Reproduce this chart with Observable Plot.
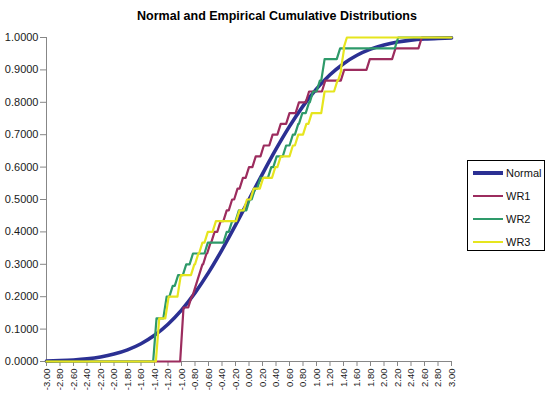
<!DOCTYPE html>
<html>
<head>
<meta charset="utf-8">
<script src="https://cdn.jsdelivr.net/npm/d3@7"></script>
<script src="https://cdn.jsdelivr.net/npm/@observablehq/plot@0.6"></script>
<style>
  body { margin: 0; background: #fff; }
  #wrap { position: relative; width: 550px; height: 398px; font-family: "Liberation Sans", Arial, sans-serif; }
  #legend { position: absolute; left: 467px; top: 160px; width: 78px; height: 91px; border: 1px solid #000; background: #fff; box-sizing: border-box; }
  .item { position: absolute; left: 5px; height: 14px; display: flex; align-items: center; font-size: 11px; color: #111; }
  .sw { width: 30px; margin-right: 3px; }
</style>
</head>
<body>
<div id="wrap"></div>
<script>
// ---- data ----
const title = "Normal and Empirical Cumulative Distributions";
const xTicks = [-3.00,-2.80,-2.60,-2.40,-2.20,-2.00,-1.80,-1.60,-1.40,-1.20,-1.00,-0.80,-0.60,-0.40,-0.20,0.00,0.20,0.40,0.60,0.80,1.00,1.20,1.40,1.60,1.80,2.00,2.20,2.40,2.60,2.80,3.00];
const xTickLabels = ["-3.00","-2.80","-2.60","-2.40","-2.20","-2.00","-1.80","-1.60","-1.40","-1.20","-1.00","-0.80","-0.60","-0.40","-0.20","0.00","0.20","0.40","0.60","0.80","1.00","1.20","1.40","1.60","1.80","2.00","2.20","2.40","2.60","2.80","3.00"];
const yTicks = [0,0.1,0.2,0.3,0.4,0.5,0.6,0.7,0.8,0.9,1.0];
const yTickLabels = ["0.0000","0.1000","0.2000","0.3000","0.4000","0.5000","0.6000","0.7000","0.8000","0.9000","1.0000"];

// Normal CDF read at 0.2 intervals
const normalX = xTicks;
const normalP = [0.0013,0.0026,0.0047,0.0082,0.0139,0.0228,0.0359,0.0548,0.0808,0.1151,0.1587,0.2119,0.2743,0.3446,0.4207,0.5000,0.5793,0.6554,0.7257,0.7881,0.8413,0.8849,0.9192,0.9452,0.9641,0.9772,0.9861,0.9918,0.9953,0.9974,0.9987];

// Empirical CDFs (sample of 30): jump locations and cumulative counts after the jump
const sampleSize = 30;
const wr1X = [-1.02,-0.90,-0.84,-0.79,-0.74,-0.68,-0.62,-0.56,-0.47,-0.38,-0.30,-0.22,-0.14,-0.05,0.05,0.17,0.30,0.42,0.55,0.69,0.84,1.08,1.36,1.74,2.12,2.51];
const wr1K = [5,6,7,8,9,10,11,12,13,14,15,16,17,18,19,20,21,22,23,24,25,26,27,28,29,30];
const wr2X = [-1.42,-1.27,-1.18,-1.10,-0.98,-0.88,-0.66,-0.38,-0.30,-0.20,-0.04,0.04,0.12,0.28,0.36,0.50,0.60,0.68,0.74,0.84,0.90,1.00,1.07,1.30,2.16];
const wr2K = [4,6,7,8,9,10,11,12,13,14,15,16,17,18,19,20,21,22,23,24,25,26,28,29,30];
const wr3X = [-1.38,-1.24,-1.06,-0.86,-0.80,-0.74,-0.66,-0.54,-0.19,-0.08,0.02,0.16,0.34,0.42,0.60,0.68,0.80,0.88,1.07,1.26,1.32,1.36,1.40];
const wr3K = [4,6,8,9,10,11,12,13,14,15,16,17,18,19,20,21,22,23,25,26,27,29,30];

const seriesNames = ["Normal","WR1","WR2","WR3"];
const seriesColors = ["#2B3093","#9C2C5E","#2E9A6A","#E6E51E"];

// ---- build ----
const riser = 0.05;
function ecdf(xs, ks) {
  const pts = [{x: -3, y: 0}];
  let prev = 0;
  xs.forEach((x, i) => {
    const lvl = ks[i] / sampleSize;
    pts.push({x: x, y: prev});
    pts.push({x: x + riser, y: lvl});
    prev = lvl;
  });
  pts.push({x: 3, y: prev});
  return pts;
}
const normal = normalX.map((x, i) => ({x, y: normalP[i]}));
const wr1 = ecdf(wr1X, wr1K), wr2 = ecdf(wr2X, wr2K), wr3 = ecdf(wr3X, wr3K);

const chart = Plot.plot({
  width: 550, height: 398,
  marginLeft: 46, marginRight: 99, marginTop: 37, marginBottom: 37,
  style: {fontFamily: "'Liberation Sans', Arial, sans-serif", background: "transparent", overflow: "visible"},
  x: {domain: [-3, 3]},
  y: {domain: [0, 1]},
  marks: [
    Plot.axisY({ticks: yTicks, tickFormat: (d, i) => yTickLabels[i], tickSize: 6, tickPadding: 2, fontSize: 11, stroke: "#878787", fill: "#1a1a1a", label: null}),
    Plot.axisX({ticks: xTicks, tickFormat: (d, i) => xTickLabels[i], tickRotate: -90, tickSize: 5, tickPadding: 2, fontSize: 9.5, stroke: "#878787", fill: "#1a1a1a", label: null}),
    Plot.ruleX([-3], {stroke: "#878787"}),
    Plot.ruleY([0], {stroke: "#878787"}),
    Plot.line(normal, {x: "x", y: "y", stroke: seriesColors[0], strokeWidth: 3.6, curve: "monotone-x"}),
    Plot.line(wr1, {x: "x", y: "y", stroke: seriesColors[1], strokeWidth: 2.2}),
    Plot.line(wr2, {x: "x", y: "y", stroke: seriesColors[2], strokeWidth: 2.2}),
    Plot.line(wr3, {x: "x", y: "y", stroke: seriesColors[3], strokeWidth: 2.2}),
    Plot.text([title], {frameAnchor: "top", dx: 28, dy: -26, fontSize: 12.5, fontWeight: "bold", fill: "#000"})
  ]
});
const wrap = document.getElementById("wrap");
wrap.appendChild(chart);

const legend = document.createElement("div");
legend.id = "legend";
const tops = [5, 28, 51, 74];
seriesNames.forEach((name, i) => {
  const it = document.createElement("div");
  it.className = "item";
  it.style.top = tops[i] + "px";
  const sw = document.createElement("div");
  sw.className = "sw";
  sw.style.height = (i === 0 ? 3.5 : 2) + "px";
  sw.style.background = seriesColors[i];
  it.appendChild(sw);
  const t = document.createElement("span");
  t.textContent = name;
  it.appendChild(t);
  legend.appendChild(it);
});
wrap.appendChild(legend);
</script>
</body>
</html>
